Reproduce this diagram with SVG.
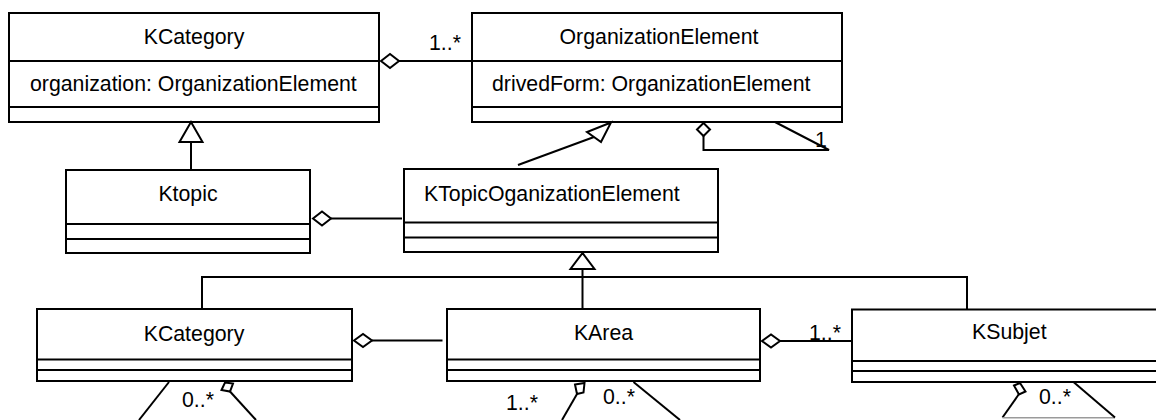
<svg xmlns="http://www.w3.org/2000/svg" width="1156" height="420" viewBox="0 0 1156 420">
  <style>
    .box { fill: #ffffff; stroke: #000000; stroke-width: 2; }
    .div { stroke: #000000; stroke-width: 2; fill: none; }
    .line { stroke: #000000; stroke-width: 2; fill: none; }
    .edge { stroke: #9a9a9a; stroke-width: 1.5; fill: none; }
    .hollow { fill: #ffffff; stroke: #000000; stroke-width: 2; stroke-linejoin: miter; }
    text { font-family: "Liberation Sans", Arial, sans-serif; font-size: 21.3px; fill: #000000; }
    .c { text-anchor: middle; }
  </style>
  <rect width="1156" height="420" fill="#ffffff"/>

  <!-- classes -->
  <g id="kcategory-top">
    <rect class="box" x="9" y="13" width="370" height="109"/>
    <line class="div" x1="9" y1="61" x2="379" y2="61"/>
    <line class="div" x1="9" y1="107" x2="379" y2="107"/>
    <text class="c" x="194" y="43.5">KCategory</text>
    <text x="30" y="91">organization: OrganizationElement</text>
  </g>

  <g id="organization-element">
    <rect class="box" x="472" y="13" width="370" height="109"/>
    <line class="div" x1="472" y1="61" x2="842" y2="61"/>
    <line class="div" x1="472" y1="107" x2="842" y2="107"/>
    <text class="c" x="659" y="43.5">OrganizationElement</text>
    <text x="492" y="91">drivedForm: OrganizationElement</text>
  </g>

  <g id="ktopic">
    <rect class="box" x="66" y="170" width="244" height="83"/>
    <line class="div" x1="66" y1="224" x2="310" y2="224"/>
    <line class="div" x1="66" y1="239" x2="310" y2="239"/>
    <text class="c" x="188" y="201">Ktopic</text>
  </g>

  <g id="ktopic-organization-element">
    <rect class="box" x="404" y="169" width="314" height="83"/>
    <line class="div" x1="404" y1="222.5" x2="718" y2="222.5"/>
    <line class="div" x1="404" y1="237.5" x2="718" y2="237.5"/>
    <text x="424" y="201">KTopicOganizationElement</text>
  </g>

  <g id="kcategory-bottom">
    <rect class="box" x="37" y="309" width="315" height="72"/>
    <line class="div" x1="37" y1="359.5" x2="352" y2="359.5"/>
    <line class="div" x1="37" y1="370" x2="352" y2="370"/>
    <text class="c" x="194" y="340.5">KCategory</text>
  </g>

  <g id="karea">
    <rect class="box" x="447" y="309" width="313" height="72"/>
    <line class="div" x1="447" y1="359.5" x2="760" y2="359.5"/>
    <line class="div" x1="447" y1="370" x2="760" y2="370"/>
    <text class="c" x="603.5" y="339.5">KArea</text>
  </g>

  <g id="ksubjet">
    <rect class="box" x="852" y="309.5" width="320" height="72.5"/>
    <line class="div" x1="852" y1="361" x2="1172" y2="361"/>
    <line class="div" x1="852" y1="371" x2="1172" y2="371"/>
    <text x="972" y="339">KSubjet</text>
  </g>

  <!-- connectors -->
  <g id="connectors">
    <!-- KCategory aggregates OrganizationElement -->
    <line class="line" x1="399" y1="61" x2="472" y2="61"/>
    <polygon class="hollow" points="381,61 390,54 399,61 390,68"/>
    <text x="429" y="50">1..*</text>

    <!-- Ktopic generalizes to KCategory -->
    <line class="line" x1="191" y1="142" x2="191" y2="170"/>
    <polygon class="hollow" points="191,122 179.5,142 202.5,142"/>

    <!-- Ktopic aggregates KTopicOganizationElement -->
    <line class="line" x1="331" y1="218.5" x2="402" y2="218.5"/>
    <polygon class="hollow" points="313,218.5 322,211.5 331,218.5 322,225.5"/>

    <!-- KTopicOganizationElement generalizes to OrganizationElement -->
    <line class="line" x1="518" y1="165" x2="594" y2="137"/>
    <polygon class="hollow" points="611,122.5 587,132 601,142"/>

    <!-- OrganizationElement self association -->
    <polyline class="line" points="703.5,136 703.5,150 829,150 775,122"/>
    <polygon class="hollow" points="703.5,123 697,129.5 703.5,136 710,129.5"/>
    <text x="815" y="147">1</text>

    <!-- hierarchy below KTopicOganizationElement -->
    <polyline class="line" points="202,309 202,277 967,277 967,309.5"/>
    <line class="line" x1="582.5" y1="269" x2="582.5" y2="309"/>
    <polygon class="hollow" points="582.5,253 570.5,269 594.5,269"/>

    <!-- KCategory aggregates KArea -->
    <line class="line" x1="372" y1="340.5" x2="442.5" y2="340.5"/>
    <polygon class="hollow" points="354,340.5 363,334 372,340.5 363,347"/>

    <!-- KArea aggregates KSubjet -->
    <line class="line" x1="780" y1="341" x2="852" y2="341"/>
    <polygon class="hollow" points="762,341 771,334.5 780,341 771,347.5"/>
    <text x="809" y="340">1..*</text>

    <!-- KCategory self association -->
    <line class="line" x1="169" y1="382" x2="139" y2="420"/>
    <line class="line" x1="230" y1="391.5" x2="256" y2="420"/>
    <polygon class="hollow" points="225,382.5 233,383.5 230,391.5 221.5,390"/>
    <text x="182" y="407">0..*</text>

    <!-- KArea self association -->
    <line class="line" x1="577" y1="394" x2="562" y2="420"/>
    <line class="line" x1="633.5" y1="382" x2="680" y2="420"/>
    <polygon class="hollow" points="575,384.5 584.5,383 583.5,392.5 577,394"/>
    <text x="506" y="410">1..*</text>
    <text x="603" y="404">0..*</text>

    <!-- KSubjet self association -->
    <polyline class="line" points="1019,394 1002.5,417.5"/>
    <line class="edge" x1="1002.5" y1="417.8" x2="1115" y2="417.8"/>
    <polyline class="line" points="1115,417.5 1073.5,382"/>
    <polygon class="hollow" points="1014,385.5 1020,383 1025.5,391.5 1019,394.5"/>
    <text x="1039" y="404">0..*</text>
  </g>
</svg>
